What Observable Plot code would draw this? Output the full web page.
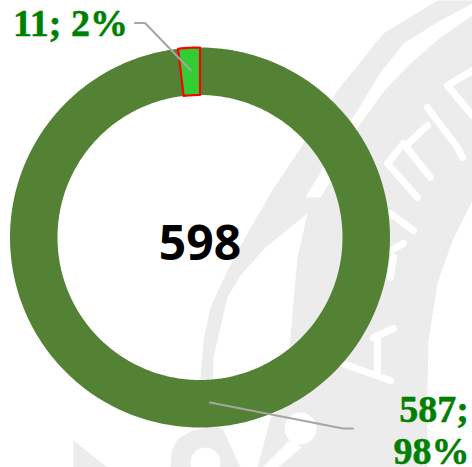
<!DOCTYPE html>
<html><head><meta charset="utf-8">
<script src="https://cdn.jsdelivr.net/npm/d3@7"></script>
<script src="https://cdn.jsdelivr.net/npm/@observablehq/plot@0.6"></script>
<style>html,body{margin:0;padding:0;background:#fff}svg{display:block}</style>
</head><body><div id="chart"></div>
<script>
const categories = ["Основная", "Выделенная"];
const values = [587, 11];
const shares = [98, 2];
const total = 598;
const colors = ["#548235", "#32cd32"];
const strokes = ["none", "#ff0000"];

const W = 472, H = 467, cx = 199.5, cy = 237, R = 190, r = 142.5;
const arcs = d3.pie().sort(null)(values);
function ring(a) {
  const n = Math.max(4, Math.ceil((a.endAngle - a.startAngle) * 60));
  const t = d3.range(n + 1).map(i => a.startAngle + (a.endAngle - a.startAngle) * i / n);
  return [...t.map(v => [v, R]), ...t.reverse().map(v => [v, r])]
    .map(([v, q]) => ({x: q * Math.sin(v), y: q * Math.cos(v), k: a.index}));
}
const slices = arcs.flatMap(ring);
const leaders = [
  [{x: -9, y: 167}, {x: -55, y: 214.5}, {x: -65, y: 214.5}],
  [{x: 10, y: -165}, {x: 143, y: -191}, {x: 153, y: -191}]
].flatMap((l, i) => l.map(p => ({...p, k: i})));

// faint background watermark
const px = (pts, k) => pts.map(([x, y]) => ({x: x - cx, y: cy - y, k}));
const circle = (x0, y0, q) => d3.range(24).map(i => [x0 + q * Math.cos(i / 24 * 2 * Math.PI), y0 + q * Math.sin(i / 24 * 2 * Math.PI)]);
const wmGrey = [
  [[200,400],[200,377],[203,340],[210,307],[226,272],[247,233],[273,188],[303,143],[337,90],[383,33],[437,0],[472,0],[472,200],[452,240],[437,283],[428,340],[427,390],[427,467],[257,467],[270,418],[290,400],[289,347],[297,257],[307,213],[265,247],[240,275],[227,297],[213,357],[212,400]],
  [[170,467],[171,450],[178,438],[192,430],[210,426],[222,428],[240,467]],
  [[73,440],[107,467],[73,467]]
];
const wmWhite = [
  [[472,3],[440,20],[403,43],[378,75],[357,110],[337,140],[320,172],[305,197],[320,197],[335,172],[360,123],[384,90],[410,63],[440,37],[472,15]],
  circle(300, 428, 16),
  circle(205, 462, 15),
  [[291,438],[301,447],[278,467],[262,467]]
];
const wmGlyphs = [
  [[447,85],[472,70]], [[447,85],[472,115]],
  [[427,107],[457,147],[462,157]], [[427,125],[408,143]],
  [[403,143],[430,177]], [[403,143],[387,163],[417,197]],
  [[390,213],[413,230]],
  [[403,243],[390,250]], [[393,257],[390,277]],
  [[342,363],[390,380]], [[377,337],[377,370]], [[393,328],[373,337]]
];
const grey = wmGrey.flatMap((s, k) => px(s, k));
const white = wmWhite.flatMap((s, k) => px(s, k));
const glyphs = wmGlyphs.flatMap((s, k) => px(s, k));

const labelStyle = {fontFamily: "Liberation Serif", fontWeight: 700, fontSize: 38, fill: "#008000", stroke: "#008000", strokeWidth: 0.5};

const chart = Plot.plot({
  width: W, height: H, margin: 0,
  x: {domain: [-cx, W - cx], range: [0, W], axis: null},
  y: {domain: [cy - H, cy], range: [H, 0], axis: null},
  marks: [
    Plot.line(grey, {x: "x", y: "y", z: "k", fill: "#ececec", stroke: "none", curve: "linear-closed"}),
    Plot.line(white, {x: "x", y: "y", z: "k", fill: "#ffffff", stroke: "none", curve: "linear-closed"}),
    Plot.line(glyphs, {x: "x", y: "y", z: "k", stroke: "#ffffff", strokeWidth: 7}),
    Plot.line(slices.filter(d => d.k === 0), {x: "x", y: "y", z: "k", fill: colors[0], stroke: "none", curve: "linear-closed"}),
    Plot.line(slices.filter(d => d.k === 1), {x: "x", y: "y", z: "k", fill: colors[1], stroke: strokes[1], strokeWidth: 2.2, curve: "linear-closed"}),
    Plot.line(leaders, {x: "x", y: "y", z: "k", stroke: "#a6a6a6", strokeWidth: 2}),
    Plot.text([String(total)], {x: [0], y: [-7], text: d => d, fontFamily: "Open Sans", fontWeight: 700, fontSize: 48, fill: "#000"}),
    Plot.text([`${values[1]}; ${shares[1]}%`], {x: [-129.5], y: [213.5], text: d => d, ...labelStyle}),
    Plot.text([`${values[0]};`, `${shares[0]}%`], {x: [234, 231.5], y: [-172, -214.5], text: d => d, ...labelStyle})
  ]
});
document.getElementById("chart").append(chart);
</script></body></html>
